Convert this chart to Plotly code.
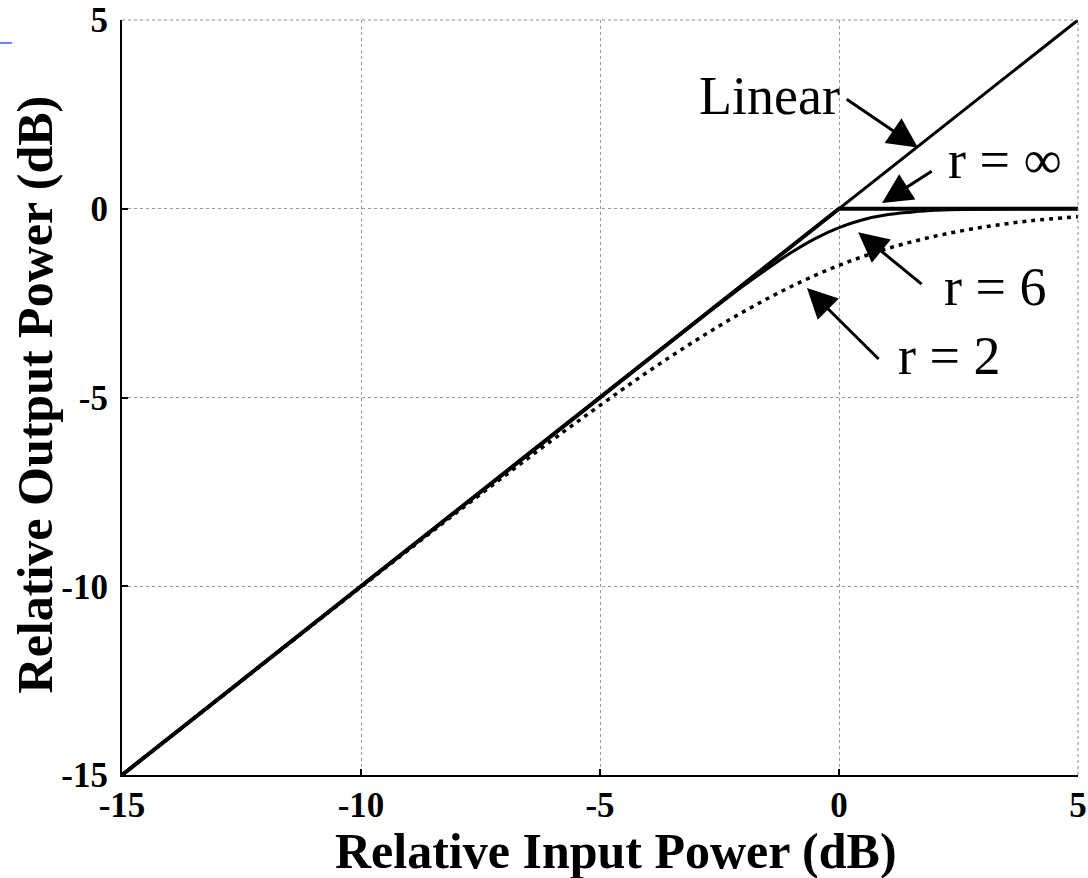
import plotly.graph_objects as go

# ---- data ----
x_linear = [-15, 5]
y_linear = [-15, 5]

x_inf = [-15, 0, 5]
y_inf = [-15, 0, 0]

x_r6 = [-15, -10, -5, -4, -3, -2, -1.5, -1, -0.5, 0, 0.5, 1, 1.5, 2, 3, 4, 5]
y_r6 = [-15, -10, -5.0, -4.0, -3.01, -2.04, -1.59, -1.16, -0.79, -0.50, -0.29, -0.16, -0.09, -0.04, -0.01, 0.0, 0.0]

x_r2 = [-15, -12, -10, -8, -6, -5, -4, -3, -2, -1, 0, 1, 2, 3, 4, 5]
y_r2 = [-15.0, -12.01, -10.02, -8.05, -6.13, -5.21, -4.32, -3.49, -2.73, -2.06, -1.50, -1.06, -0.73, -0.49, -0.32, -0.21]

tick_vals = [-15, -10, -5, 0, 5]
tick_text = ["-15", "-10", "-5", "0", "5"]

x_title = "Relative Input Power (dB)"
y_title = "Relative Output Power (dB)"

labels = ["Linear", "r = ∞", "r = 6", "r = 2"]
label_pos = [(-1.45, 3.0), (3.47, 1.3), (3.27, -2.08), (2.3, -3.9)]
arrow_head = [(1.65, 1.62), (0.9, 0.15), (0.4, -0.62), (-0.67, -2.1)]
arrow_tail = [(0.13, 2.93), (1.97, 1.02), (1.76, -2.03), (0.86, -4.02)]

SERIF = "Liberation Serif, Times New Roman, serif"

fig = go.Figure()
fig.add_trace(go.Scatter(x=x_linear, y=y_linear, mode="lines",
                         line=dict(color="black", width=3), name="Linear"))
fig.add_trace(go.Scatter(x=x_inf, y=y_inf, mode="lines",
                         line=dict(color="black", width=4), name="r = ∞"))
fig.add_trace(go.Scatter(x=x_r6, y=y_r6, mode="lines",
                         line=dict(color="black", width=3, shape="spline"), name="r = 6"))
fig.add_trace(go.Scatter(x=x_r2, y=y_r2, mode="lines",
                         line=dict(color="black", width=3.5, dash="4px,5px", shape="spline"),
                         name="r = 2"))

for txt, (tx, ty) in zip(labels, label_pos):
    fig.add_annotation(x=tx, y=ty, xref="x", yref="y", text=txt, showarrow=False,
                       font=dict(family=SERIF, size=54, color="black"))
for (hx, hy), (tx, ty) in zip(arrow_head, arrow_tail):
    fig.add_annotation(x=hx, y=hy, ax=tx, ay=ty, xref="x", yref="y",
                       axref="x", ayref="y", text="", showarrow=True,
                       arrowhead=2, arrowsize=2.0, arrowwidth=3, arrowcolor="black")

# axis titles
fig.add_annotation(x=0.517, y=-0.1, xref="paper", yref="paper", text=x_title,
                   showarrow=False, xanchor="center", yanchor="middle",
                   font=dict(family=SERIF, size=50, color="black", weight="bold"))
fig.add_annotation(x=-0.09, y=0.504, xref="paper", yref="paper", text=y_title,
                   showarrow=False, xanchor="center", yanchor="middle", textangle=-90,
                   font=dict(family=SERIF, size=50, color="black", weight="bold"))

# dotted top/right box edges
fig.add_shape(type="line", xref="paper", yref="paper", x0=0, x1=1, y0=1, y1=1,
              line=dict(color="#888", width=1, dash="dot"))
fig.add_shape(type="line", xref="paper", yref="paper", x0=1, x1=1, y0=0, y1=1,
              line=dict(color="#888", width=1, dash="dot"))
# small blue mark at top-left
fig.add_shape(type="line", xref="paper", yref="paper", x0=-0.1276, x1=-0.115,
              y0=0.9695, y1=0.9695, line=dict(color="#7080ff", width=2))

axis_common = dict(
    range=[-15, 5], tickvals=tick_vals, ticktext=tick_text,
    showgrid=True, gridcolor="#999", griddash="dot", gridwidth=1,
    showline=True, linecolor="black", linewidth=2,
    ticks="inside", ticklen=6, tickcolor="black", tickwidth=2,
    zeroline=False, automargin=False, ticklabeloverflow="allow",
    tickfont=dict(family=SERIF, size=35, color="black", weight="bold"),
)

fig.update_layout(
    width=1088, height=878,
    margin=dict(l=122, r=10, t=20, b=103),
    plot_bgcolor="white", paper_bgcolor="white",
    showlegend=False,
    xaxis=dict(**axis_common, ticklabelstandoff=-2),
    yaxis=dict(**axis_common, ticklabelstandoff=5),
)

fig.write_html("out.html")
